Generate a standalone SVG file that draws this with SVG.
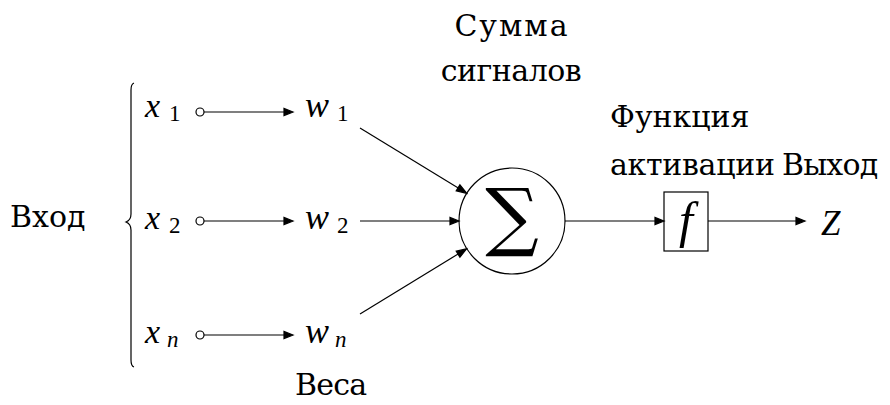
<svg xmlns="http://www.w3.org/2000/svg" width="890" height="405" viewBox="0 0 890 405">
<rect width="890" height="405" fill="#fff"/>
<g id="labels">
<text x="512" y="36" font-family="DejaVu Serif" font-size="30" text-anchor="middle" letter-spacing="2">Сумма</text>
<text x="511" y="81" font-family="DejaVu Serif" font-size="30" text-anchor="middle" letter-spacing="-0.5">сигналов</text>
<text x="610" y="127" font-family="DejaVu Serif" font-size="30">Функция</text>
<text x="610" y="175" font-family="DejaVu Serif" font-size="30" letter-spacing="-0.3">активации</text>
<text x="782" y="175" font-family="DejaVu Serif" font-size="30" letter-spacing="-0.8">Выход</text>
<text x="10" y="227" font-family="DejaVu Serif" font-size="30">Вход</text>
<text x="295" y="395" font-family="DejaVu Serif" font-size="30" letter-spacing="-0.8">Веса</text>
</g>
<g id="brace">
<path d="M134,83 Q131,84 131,90 L131,214 Q131,220 126,222 Q131,224 131,230 L131,360 Q131,366 134,367" stroke="#000" stroke-width="1.2" fill="none"/>
</g>
<g id="x1"><text x="145" y="117" font-family="Liberation Serif" font-size="34" font-style="italic">x</text><text x="169" y="121" font-family="Liberation Serif" font-size="23">1</text><circle cx="200" cy="112" r="4" fill="#fff" stroke="#000" stroke-width="1.2"/></g>
<g id="x2"><text x="145" y="229" font-family="Liberation Serif" font-size="34" font-style="italic">x</text><text x="169" y="233" font-family="Liberation Serif" font-size="23">2</text><circle cx="200" cy="221" r="4" fill="#fff" stroke="#000" stroke-width="1.2"/></g>
<g id="xn"><text x="145" y="343" font-family="Liberation Serif" font-size="34" font-style="italic">x</text><text x="167" y="347" font-family="Liberation Serif" font-size="23" font-style="italic">n</text><circle cx="200" cy="335" r="4" fill="#fff" stroke="#000" stroke-width="1.2"/></g>
<g id="w1"><text x="305" y="117" font-family="Liberation Serif" font-size="36" font-style="italic">w</text><text x="337" y="121" font-family="Liberation Serif" font-size="23">1</text></g>
<g id="w2"><text x="305" y="229" font-family="Liberation Serif" font-size="36" font-style="italic">w</text><text x="337" y="233" font-family="Liberation Serif" font-size="23">2</text></g>
<g id="wn"><text x="305" y="343" font-family="Liberation Serif" font-size="36" font-style="italic">w</text><text x="335" y="347" font-family="Liberation Serif" font-size="23" font-style="italic">n</text></g>
<g id="z"><text x="821" y="235" font-family="Liberation Serif" font-size="35" font-style="italic">Z</text></g>
<g id="sum">
<circle cx="512" cy="221" r="53" fill="#fff" stroke="#000" stroke-width="1.2"/>
<text x="512" y="242" text-anchor="middle" font-family="DejaVu Serif" font-size="75">∑</text>
</g>
<g id="f">
<rect x="664" y="192" width="44" height="59" fill="#fff" stroke="#000" stroke-width="1.2"/>
<text x="686" y="237" text-anchor="middle" font-family="Liberation Serif" font-style="italic" font-size="50">f</text>
</g>
<g id="connectors" stroke="#000" stroke-width="1.2">
<line x1="204" y1="112" x2="286" y2="112"/><polygon points="293,112 284,108.5 284,115.5"/>
<line x1="204" y1="221" x2="286" y2="221"/><polygon points="293,221 284,217.5 284,224.5"/>
<line x1="204" y1="335" x2="286" y2="335"/><polygon points="293,335 284,331.5 284,338.5"/>
<line x1="360" y1="128" x2="460.7" y2="189.6"/><polygon points="466.7,193.3 456.2,190.8 459.9,184.8"/>
<line x1="360" y1="221" x2="452" y2="221"/><polygon points="459,221 450,217.5 450,224.5"/>
<line x1="360" y1="314" x2="460.7" y2="252.4"/><polygon points="466.7,248.7 459.9,257.2 456.2,251.2"/>
<line x1="565" y1="221" x2="657" y2="221"/><polygon points="664,221 655,217.5 655,224.5"/>
<line x1="708" y1="221" x2="798" y2="221"/><polygon points="805,221 796,217.5 796,224.5"/>
</g>
</svg>
